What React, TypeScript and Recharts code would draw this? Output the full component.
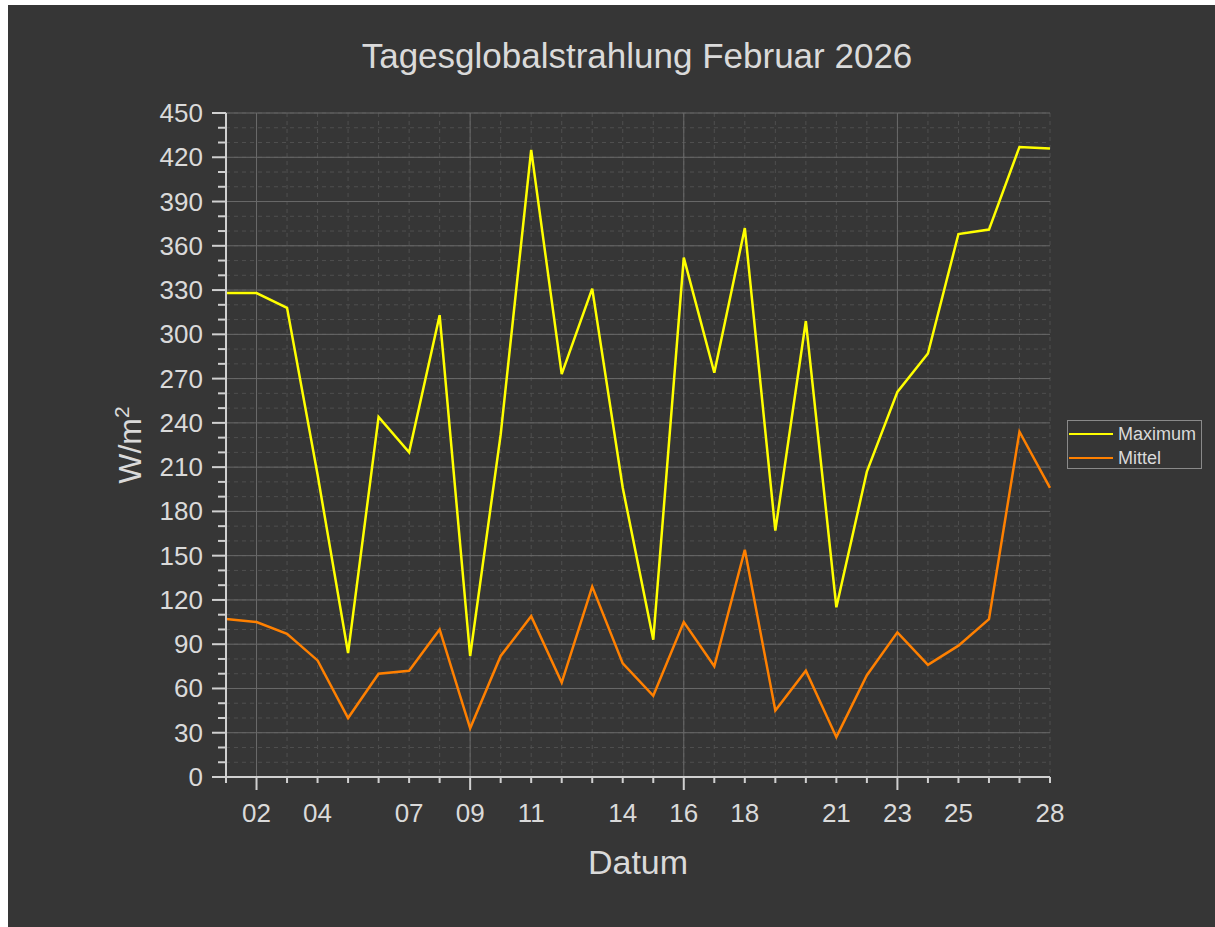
import React from "react";
import {
  LineChart,
  Line,
  XAxis,
  YAxis,
  CartesianGrid,
  ReferenceLine,
} from "recharts";

// Tage im Februar 2026
const days = [
  1, 2, 3, 4, 5, 6, 7, 8, 9, 10, 11, 12, 13, 14, 15, 16, 17, 18, 19, 20, 21,
  22, 23, 24, 25, 26, 27, 28,
];

// Tageswerte Globalstrahlung in W/m²
const maximum = [
  328, 328, 318, 205, 84, 244, 220, 313, 82, 232, 425, 273, 331, 196, 93, 352,
  274, 372, 167, 309, 115, 207, 261, 287, 368, 371, 427, 426,
];
const mittel = [
  107, 105, 97, 79, 40, 70, 72, 100, 33, 82, 109, 64, 129, 77, 55, 105, 75,
  154, 45, 72, 27, 69, 98, 76, 89, 107, 234, 196,
];

// Achsen
const dayLabels = [2, 4, 7, 9, 11, 14, 16, 18, 21, 23, 25, 28];
const weekTicks = [2, 9, 16, 23];
const yTicks = [
  0, 10, 20, 30, 40, 50, 60, 70, 80, 90, 100, 110, 120, 130, 140, 150, 160,
  170, 180, 190, 200, 210, 220, 230, 240, 250, 260, 270, 280, 290, 300, 310,
  320, 330, 340, 350, 360, 370, 380, 390, 400, 410, 420, 430, 440, 450,
];
const yLabels = [
  0, 30, 60, 90, 120, 150, 180, 210, 240, 270, 300, 330, 360, 390, 420, 450,
];

const series = [
  { key: "maximum", name: "Maximum", color: "#ffff00" },
  { key: "mittel", name: "Mittel", color: "#ff8000" },
];

const data = days.map((day, i) => ({
  day,
  maximum: maximum[i],
  mittel: mittel[i],
}));

const FONT = '"Liberation Sans", Arial, sans-serif';
const TEXT = "#dadada";
const AXIS = "#d0d0d0";

const XTick = (props: any) => {
  const { x, y, payload } = props;
  const v = payload.value;
  const major = weekTicks.includes(v);
  return (
    <g>
      <line x1={x} x2={x} y1={y} y2={y + (major ? 13 : 6)} stroke={AXIS} strokeWidth={2} />
      {dayLabels.includes(v) && (
        <text x={x} y={y + 45} textAnchor="middle" fill={TEXT} fontSize={26} fontFamily={FONT}>
          {String(v).padStart(2, "0")}
        </text>
      )}
    </g>
  );
};

const YTick = (props: any) => {
  const { x, y, payload } = props;
  const v = payload.value;
  const major = yLabels.includes(v);
  return (
    <g>
      <line x1={x - (major ? 14 : 8)} x2={x} y1={y} y2={y} stroke={AXIS} strokeWidth={2} />
      {major && (
        <text x={x - 23} y={y + 9} textAnchor="end" fill={TEXT} fontSize={26} fontFamily={FONT}>
          {v}
        </text>
      )}
    </g>
  );
};

export default function App() {
  return (
    <div
      style={{
        position: "absolute",
        left: 8,
        top: 5,
        width: 1207,
        height: 922,
        background: "#363636",
        fontFamily: FONT,
        color: TEXT,
      }}
    >
      <LineChart
        width={1207}
        height={922}
        data={data}
        margin={{ top: 108, right: 165, bottom: 90, left: 158 }}
      >
        <CartesianGrid stroke="#4f4f4f" strokeDasharray="4 4" />
        {yLabels.map((v) => (
          <ReferenceLine key={"h" + v} y={v} stroke="#6a6a6a" strokeWidth={1} />
        ))}
        {weekTicks.map((v) => (
          <ReferenceLine key={"v" + v} x={v} stroke="#6a6a6a" strokeWidth={1} />
        ))}
        <XAxis
          dataKey="day"
          type="number"
          domain={[1, 28]}
          ticks={days}
          interval={0}
          height={60}
          tickSize={0}
          tickMargin={0}
          tick={<XTick />}
          axisLine={{ stroke: AXIS, strokeWidth: 2 }}
        />
        <YAxis
          type="number"
          domain={[0, 450]}
          ticks={yTicks}
          interval={0}
          width={60}
          tickSize={0}
          tickMargin={0}
          tick={<YTick />}
          axisLine={{ stroke: AXIS, strokeWidth: 2 }}
        />
        {series.map((s) => (
          <Line
            key={s.key}
            type="linear"
            dataKey={s.key}
            name={s.name}
            stroke={s.color}
            strokeWidth={2.5}
            dot={false}
            isAnimationActive={false}
          />
        ))}
      </LineChart>

      {/* Titel */}
      <div
        style={{
          position: "absolute",
          left: 229,
          width: 800,
          top: 33,
          textAlign: "center",
          fontSize: 35,
          lineHeight: "35px",
        }}
      >
        Tagesglobalstrahlung Februar 2026
      </div>

      {/* X-Achsentitel */}
      <div
        style={{
          position: "absolute",
          left: 430,
          width: 400,
          top: 840,
          textAlign: "center",
          fontSize: 34,
          lineHeight: "34px",
        }}
      >
        Datum
      </div>

      {/* Y-Achsentitel */}
      <div
        style={{
          position: "absolute",
          left: 122 - 100,
          top: 440 - 20,
          width: 200,
          height: 40,
          lineHeight: "40px",
          textAlign: "center",
          fontSize: 32,
          transform: "rotate(-90deg)",
        }}
      >
        W/m<sup style={{ fontSize: 21, verticalAlign: "12px", lineHeight: 0 }}>2</sup>
      </div>

      {/* Legende */}
      <div
        style={{
          position: "absolute",
          left: 1059,
          top: 415,
          width: 133,
          height: 47,
          border: "1px solid #8a8a8a",
        }}
      >
        {series.map((s, i) => (
          <div
            key={s.key}
            style={{
              position: "absolute",
              left: 0,
              top: 1 + i * 24,
              height: 24,
              display: "flex",
              alignItems: "center",
            }}
          >
            <div style={{ marginLeft: 1, width: 44, height: 2, background: s.color }} />
            <span style={{ marginLeft: 5, fontSize: 18, lineHeight: "24px" }}>{s.name}</span>
          </div>
        ))}
      </div>
    </div>
  );
}
